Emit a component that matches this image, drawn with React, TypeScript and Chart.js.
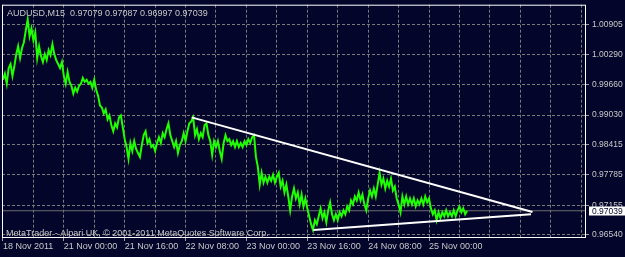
import React, { useEffect, useRef } from 'react';
import { Chart, registerables } from 'chart.js';

Chart.register(...registerables);

// ---- data (AUDUSD M15, close samples every 30 minutes) ----
const closes = [
  0.99764, 0.99887, 0.99681, 1.00010, 1.00093, 0.99846, 1.00052, 1.00298, 1.00463, 1.00216,
  1.00422, 1.00545, 1.00792, 1.01018, 1.00669, 1.00833, 1.00586, 1.00751, 1.00216, 1.00463,
  1.00257, 1.00134, 1.00298, 1.00175, 1.00381, 1.00278, 1.00504, 1.00298, 1.00175, 1.00093,
  1.00010, 1.00134, 0.99846, 0.99681, 0.99928, 0.99722, 0.99640, 0.99476, 0.99599, 0.99517,
  0.99640, 0.99681, 0.99805, 0.99722, 0.99764, 0.99681, 0.99722, 0.99599, 0.99764, 0.99558,
  0.99434, 0.99229, 0.99188, 0.99064, 0.99146, 0.98941, 0.99023, 0.98817, 0.98694, 0.98858,
  0.98776, 0.98982, 0.99023, 0.98776, 0.98529, 0.98365, 0.98118, 0.98447, 0.98282, 0.98488,
  0.98324, 0.98241, 0.98159, 0.98406, 0.98612, 0.98694, 0.98447, 0.98529, 0.98365, 0.98406,
  0.98282, 0.98447, 0.98570, 0.98447, 0.98653, 0.98570, 0.98735, 0.98858, 0.98612, 0.98488,
  0.98365, 0.98488, 0.98241, 0.98406, 0.98488, 0.98653, 0.98488, 0.98694, 0.98858, 0.98900,
  0.98982, 0.98612, 0.98735, 0.98529, 0.98653, 0.98570, 0.98817, 0.98858, 0.98612, 0.98488,
  0.98200, 0.98488, 0.98365, 0.98488, 0.98282, 0.98118, 0.98447, 0.98612, 0.98488, 0.98529,
  0.98406, 0.98488, 0.98365, 0.98488, 0.98365, 0.98447, 0.98365, 0.98488, 0.98406, 0.98529,
  0.98447, 0.98570, 0.98612, 0.98159, 0.97953, 0.97583, 0.97830, 0.97624, 0.97748, 0.97624,
  0.97748, 0.97665, 0.97789, 0.97624, 0.97748, 0.97830, 0.97542, 0.97665, 0.97419, 0.97583,
  0.97336, 0.97048, 0.97336, 0.97501, 0.97295, 0.97419, 0.97172, 0.97377, 0.97131, 0.97295,
  0.97089, 0.96925, 0.96760, 0.96637, 0.96843, 0.96760, 0.96925, 0.97089, 0.96884, 0.97007,
  0.96801, 0.97048, 0.97213, 0.96966, 0.96843, 0.96966, 0.96843, 0.97007, 0.96925, 0.97048,
  0.96966, 0.97131, 0.97048, 0.97254, 0.97172, 0.97336, 0.97254, 0.97419, 0.97254, 0.97377,
  0.97172, 0.97048, 0.97295, 0.97460, 0.97336, 0.97501, 0.97336, 0.97583, 0.97830, 0.97583,
  0.97707, 0.97501, 0.97665, 0.97542, 0.97707, 0.97460, 0.97542, 0.97295, 0.97172, 0.97007,
  0.97336, 0.97172, 0.97336, 0.97172, 0.97295, 0.97172, 0.97295, 0.97131, 0.97254, 0.97172,
  0.97295, 0.97172, 0.97336, 0.97213, 0.97295, 0.97089, 0.96966, 0.97048, 0.96843, 0.97007,
  0.96884, 0.97007, 0.96925, 0.97048, 0.96925, 0.97007, 0.96925, 0.97048, 0.96925, 0.97048,
  0.97131, 0.97007, 0.97089, 0.96966, 0.97039,
];
const sampleStepHours = 0.5;

const timeLabelHours = [0, 16, 32, 48, 64, 80, 96, 112];
const timeLabels = [
  '18 Nov 2011', '21 Nov 00:00', '21 Nov 16:00', '22 Nov 08:00',
  '23 Nov 00:00', '23 Nov 16:00', '24 Nov 08:00', '25 Nov 00:00',
];
const gridHours = [0, 8, 16, 24, 32, 40, 48, 56, 64, 72, 80, 88, 96, 104, 112, 120, 128, 136, 144, 152];
const priceTicks = [0.96540, 0.97155, 0.97785, 0.98415, 0.99030, 0.99660, 1.00290, 1.00905];

const upperTrend = [{ x: 49.6, y: 0.98982 }, { x: 139.2, y: 0.97013 }];
const lowerTrend = [{ x: 81.6, y: 0.96637 }, { x: 138.8, y: 0.96966 }];

const lastBar = [0.97079, 0.97087, 0.96997, 0.97039]; // open, high, low, close
const symbolText = 'AUDUSD,M15';
const footerText = 'MetaTrader - Alpari UK, \u00A9 2001-2011 MetaQuotes Software Corp.';

const xRange = [-0.25, 153.0];
const yRange = [0.96493, 1.01327];

// ---- styles ----
const BG = '#03052a';
const GRID = '#7a7a7a';
const TEXT = '#c8c8c8';
const LINE = '#20ff00';
const FONT = "'Liberation Sans', Arial, sans-serif";

const mtPlugin = {
  id: 'mtDecor',
  beforeDraw(chart: any) {
    const { ctx, width, height } = chart;
    ctx.save();
    ctx.fillStyle = BG;
    ctx.fillRect(0, 0, width, height);
    ctx.restore();
  },
  afterDraw(chart: any) {
    const { ctx, chartArea: a, scales } = chart;
    ctx.save();
    // frame
    ctx.strokeStyle = '#ffffff';
    ctx.lineWidth = 1;
    ctx.strokeRect(a.left + 0.5, a.top + 0.5, a.right - a.left, a.bottom - a.top);
    // title
    ctx.font = `9px ${FONT}`;
    ctx.fillStyle = TEXT;
    ctx.textBaseline = 'alphabetic';
    ctx.textAlign = 'left';
    const title = `${symbolText}  ${lastBar.map((v) => v.toFixed(5)).join(' ')}`;
    ctx.fillText(title, a.left + 5, a.top + 11);
    // footer
    ctx.fillText(footerText, a.left + 4, a.bottom - 1);
    // price box
    const close = lastBar[3];
    const py = scales.y.getPixelForValue(close);
    ctx.fillStyle = '#ffffff';
    ctx.fillRect(a.right + 4, Math.round(py) - 4.5, 40, 9);
    ctx.fillStyle = '#03052a';
    ctx.font = `8.5px ${FONT}`;
    ctx.textBaseline = 'middle';
    ctx.fillText(close.toFixed(5), a.right + 7, py + 0.5);
    ctx.restore();
  },
};

export default function App() {
  const ref = useRef<HTMLCanvasElement>(null);

  useEffect(() => {
    document.body.style.margin = '0';
    const canvas = ref.current;
    if (!canvas) return;
    const priceData = closes.map((v, i) => ({ x: i * sampleStepHours, y: v }));
    const bidData = [{ x: xRange[0], y: lastBar[3] }, { x: xRange[1], y: lastBar[3] }];

    const chart = new Chart(canvas, {
      type: 'line',
      data: {
        datasets: [
          { data: upperTrend, borderColor: '#ffffff', borderWidth: 2, pointRadius: 0, tension: 0 },
          { data: lowerTrend, borderColor: '#ffffff', borderWidth: 2, pointRadius: 0, tension: 0 },
          { data: priceData, borderColor: LINE, borderWidth: 2, pointRadius: 0, tension: 0 },
          { data: bidData, borderColor: '#6e6e6e', borderWidth: 1, pointRadius: 0, tension: 0 },
        ],
      },
      plugins: [mtPlugin],
      options: {
        responsive: false,
        animation: false,
        devicePixelRatio: 1,
        events: [],
        layout: { padding: { left: 2, top: 2, right: 0, bottom: 0 } },
        plugins: { legend: { display: false }, tooltip: { enabled: false }, title: { display: false } },
        scales: {
          x: {
            type: 'linear',
            min: xRange[0],
            max: xRange[1],
            afterBuildTicks: (s: any) => {
              s.ticks = gridHours.map((v) => ({ value: v }));
            },
            afterFit: (s: any) => {
              s.height = 20;
            },
            ticks: {
              autoSkip: false,
              maxRotation: 0,
              minRotation: 0,
              align: 'start',
              padding: 0,
              color: TEXT,
              font: { family: FONT, size: 9, lineHeight: 1.2 },
              callback: (v: any) => {
                const k = timeLabelHours.indexOf(Number(v));
                return k >= 0 ? timeLabels[k] : '';
              },
            },
            grid: {
              color: GRID,
              lineWidth: 1,
              drawTicks: true,
              tickLength: 4,
              tickBorderDash: [],
              tickColor: (ctx: any) =>
                timeLabelHours.indexOf(ctx.tick ? ctx.tick.value : -1) >= 0 ? '#a0a0a0' : 'rgba(0,0,0,0)',
            },
            border: { display: false, dash: [3, 2] },
          },
          y: {
            type: 'linear',
            position: 'right',
            min: yRange[0],
            max: yRange[1],
            afterBuildTicks: (s: any) => {
              s.ticks = priceTicks.map((v) => ({ value: v }));
            },
            afterFit: (s: any) => {
              s.width = 40;
            },
            ticks: {
              padding: 3,
              color: TEXT,
              font: { family: FONT, size: 8.5, lineHeight: 0.4 },
              callback: (v: any) => Number(v).toFixed(5),
            },
            grid: {
              color: GRID,
              lineWidth: 1,
              drawTicks: true,
              tickLength: 4,
              tickBorderDash: [],
              tickColor: '#a0a0a0',
            },
            border: { display: false, dash: [3, 2] },
          },
        },
      } as any,
    });
    return () => chart.destroy();
  }, []);

  return (
    <div style={{ position: 'fixed', left: 0, top: 0, width: 625, height: 257, background: BG }}>
      <canvas ref={ref} width={625} height={257} style={{ display: 'block', width: 625, height: 257 }} />
    </div>
  );
}
